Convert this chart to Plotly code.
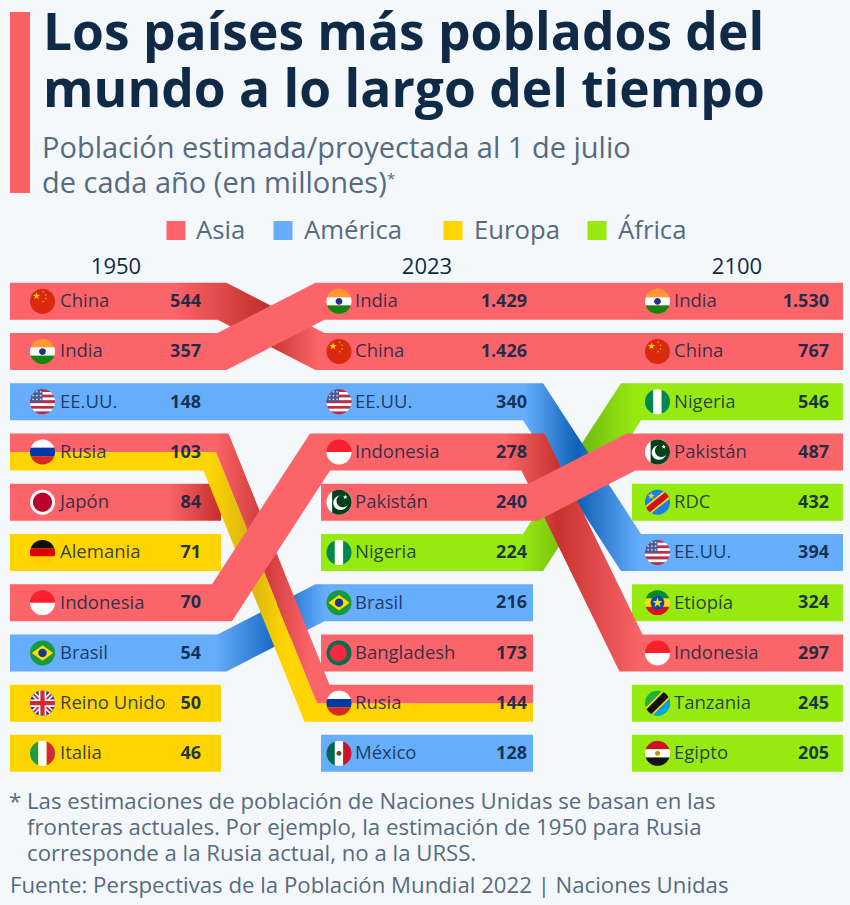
import math
import plotly.graph_objects as go

# ---------- data ----------
YEARS = ["1950", "2023", "2100"]
names_1950 = ["China", "India", "EE.UU.", "Rusia", "Japón", "Alemania", "Indonesia", "Brasil", "Reino Unido", "Italia"]
values_1950 = ["544", "357", "148", "103", "84", "71", "70", "54", "50", "46"]
names_2023 = ["India", "China", "EE.UU.", "Indonesia", "Pakistán", "Nigeria", "Brasil", "Bangladesh", "Rusia", "México"]
values_2023 = ["1.429", "1.426", "340", "278", "240", "224", "216", "173", "144", "128"]
names_2100 = ["India", "China", "Nigeria", "Pakistán", "RDC", "EE.UU.", "Etiopía", "Indonesia", "Tanzania", "Egipto"]
values_2100 = ["1.530", "767", "546", "487", "432", "394", "324", "297", "245", "205"]
continent = {"China": "Asia", "India": "Asia", "EE.UU.": "América", "Rusia": "Rusia", "Japón": "Asia",
             "Alemania": "Europa", "Indonesia": "Asia", "Brasil": "América", "Reino Unido": "Europa",
             "Italia": "Europa", "Pakistán": "Asia", "Nigeria": "África", "Bangladesh": "Asia", "México": "América",
             "RDC": "África", "Etiopía": "África", "Tanzania": "África", "Egipto": "África"}
legend_names = ["Asia", "América", "Europa", "África"]

# ---------- style ----------
BG = "#f4f8fb"
NAVY = "#0f2a47"
GREY = "#566b80"
COL = {"Asia": "#fb6468", "América": "#66aefc", "Europa": "#ffd500", "África": "#97ea10"}
FONT = "Open Sans"
ROW0, PITCH, H = 301.3, 50.23, 37
TEXT_DY = 1.3
BAR = [(10, 221), (321, 533), (632, 843)]
GAP = [(222, 320), (533, 631)]
FLAG_X = [42.5, 339, 657.5]
LABEL_X = [60, 355, 674]
VALUE_X = [201, 527, 829]
YEAR_X = [116, 427, 737]
LEG_SQ = [176, 283, 453, 597]
LEG_TX = [196, 304, 474, 618]
# drawing order and shadow stops (x position, colour) of each ribbon
SHADE = {
    "China": [(175, None), (265, "#c4302c"), (318, None)],
    "Japón": [(170, None), (221, "#c42e2c")],
    "Rusia": [(215, None), (265, "#cf3a38"), (310, None)],
    "RusiaE": [(210, None), (250, "#d8b410"), (285, None)],
    "Brasil": [(215, None), (278, "#1465c0"), (325, None)],
    "EE.UU.": [(525, None), (578, "#0f60b5"), (640, None)],
    "Nigeria": [(520, None), (575, "#6cb30f"), (635, None)],
    "Indonesia": [(505, None), (558, "#c8322e"), (640, None)],
}
ORDER = ["China", "India", "Japón", "Alemania", "Reino Unido", "Italia", "Brasil", "RusiaE", "Rusia", "Bangladesh",
         "México", "RDC", "Etiopía", "Tanzania", "Egipto", "Nigeria", "EE.UU.", "Indonesia", "Pakistán"]
columns = [names_1950, names_2023, names_2100]
values = [values_1950, values_2023, values_2100]


def row_y(r):
    return ROW0 + PITCH * r


def edge(name, s):
    """Polyline of a ribbon edge, s = offset from the centre line."""
    pts = []
    present = [i for i in range(3) if name in columns[i]]
    for k, i in enumerate(present):
        y = row_y(columns[i].index(name)) + s
        if k == 0:
            pts.append((BAR[i][0], y))
        if i in present and i + 1 in present:
            ya = row_y(columns[i].index(name))
            yb = row_y(columns[i + 1].index(name))
            if ya != yb:
                xa, xb = GAP[i]
                if name == "Rusia":
                    xa, xb = xa - 6, xb - 3
                th = math.atan2(abs(yb - ya), xb - xa)
                d = -s * math.tan(th / 2) * (1 if yb > ya else -1)
                pts.append((xa + d, ya + s))
                pts.append((xb + d, yb + s))
        else:
            pts.append((BAR[i][1], y))
    return pts


def add_ribbon(fig, key):
    name = "Rusia" if key == "RusiaE" else key
    base = COL["Europa"] if key == "RusiaE" else COL["Asia"] if key == "Rusia" else COL[continent[key]]
    s1, s2 = -H / 2, H / 2
    if key == "Rusia":
        s2 = 0
    if key == "RusiaE":
        s1 = 0
    top, bot = edge(name, s1), edge(name, s2)
    poly = top + bot[::-1] + [top[0]]
    xs, ys = zip(*poly)
    kw = dict(fillcolor=base)
    if key in SHADE:
        lo, hi = min(xs), max(xs)
        stops = [[0, base]]
        for x, c in SHADE[key]:
            stops.append([min(max((x - lo) / (hi - lo), 0), 1), c or base])
        stops.append([1, stops[-1][1] if key == "Japón" else base])
        kw = dict(fillgradient=dict(type="horizontal", colorscale=stops))
    fig.add_trace(go.Scatter(x=xs, y=ys, mode="lines", line=dict(width=0), fill="toself",
                             hoverinfo="skip", showlegend=False, **kw))


# ---------- flags: (colour, unit-space polygon) clipped to a disc ----------
def disc(cx=0.0, cy=0.0, r=1.0, n=48):
    return [(cx + r * math.cos(2 * math.pi * k / n), cy + r * math.sin(2 * math.pi * k / n)) for k in range(n)]


def rect(x0, y0, x1, y1):
    return [(x0, y0), (x1, y0), (x1, y1), (x0, y1)]


def stripe(ax, ay, bx, by, w):
    l = math.hypot(bx - ax, by - ay)
    nx, ny = -(by - ay) / l * w, (bx - ax) / l * w
    return [(ax + nx, ay + ny), (ax - nx, ay - ny), (bx - nx, by - ny), (bx + nx, by + ny)]


def star(cx, cy, r):
    return [(cx + (r if k % 2 == 0 else r * .4) * math.sin(math.pi * k / 5),
             cy + (r if k % 2 == 0 else r * .4) * math.cos(math.pi * k / 5)) for k in range(10)]


def clip(poly, convex):
    out = poly
    n = len(convex)
    for i in range(n):
        ax, ay = convex[i]
        bx, by = convex[(i + 1) % n]
        inside = lambda p: (bx - ax) * (p[1] - ay) - (by - ay) * (p[0] - ax) >= 0
        cur, out = out, []
        for j, p in enumerate(cur):
            q = cur[j - 1]
            if inside(p) != inside(q):
                dx, dy = p[0] - q[0], p[1] - q[1]
                t = ((bx - ax) * (q[1] - ay) - (by - ay) * (q[0] - ax)) / ((by - ay) * dx - (bx - ax) * dy)
                out.append((q[0] + t * dx, q[1] + t * dy))
            if inside(p):
                out.append(p)
        if not out:
            break
    return out


def hbands(*cols):
    n = len(cols)
    return [(c, rect(-1, 1 - 2 * (i + 1) / n, 1, 1 - 2 * i / n)) for i, c in enumerate(cols)]


def vbands(*cols):
    n = len(cols)
    return [(c, rect(-1 + 2 * i / n, -1, -1 + 2 * (i + 1) / n, 1)) for i, c in enumerate(cols)]


usa = hbands(*["#c8283c" if i % 2 == 0 else "#ffffff" for i in range(9)]) + [("#4a5a94", rect(-1, 0, 0, 1))]
usa += [("#dfe3ee", disc(x, y, .07, 8)) for x in (-.75, -.45, -.15) for y in (.2, .5, .8)]
uk = [("#1f3f8f", rect(-1, -1, 1, 1)), ("#ffffff", stripe(-1, -1, 1, 1, .2)), ("#ffffff", stripe(-1, 1, 1, -1, .2)),
      ("#d3283a", stripe(-1, -1, 1, 1, .08)), ("#d3283a", stripe(-1, 1, 1, -1, .08)),
      ("#ffffff", rect(-.3, -1, .3, 1)), ("#ffffff", rect(-1, -.3, 1, .3)),
      ("#d3283a", rect(-.17, -1, .17, 1)), ("#d3283a", rect(-1, -.17, 1, .17))]
FLAGS = {
    "China": [("#d9290f", rect(-1, -1, 1, 1)), ("#ffd400", star(-.48, .42, .3)), ("#f6b400", disc(.05, .75, .06, 8)),
              ("#f6b400", disc(.25, .5, .06, 8)), ("#f6b400", disc(.25, .2, .06, 8)), ("#f6b400", disc(.05, -.02, .06, 8))],
    "India": hbands("#ff9933", "#ffffff", "#138808") + [("#1e2f8f", disc(0, 0, .27, 16))],
    "EE.UU.": usa,
    "Rusia": hbands("#ffffff", "#0039a6", "#d52b1e"),
    "Japón": [("#ffffff", rect(-1, -1, 1, 1)), ("#bc002d", disc(0, 0, .76))],
    "Alemania": hbands("#111111", "#dd0000", "#ffce00"),
    "Indonesia": hbands("#f8202c", "#ffffff"),
    "Brasil": [("#189a3c", rect(-1, -1, 1, 1)), ("#ffdf00", [(-.85, 0), (0, -.62), (.85, 0), (0, .62)]),
               ("#123a8a", disc(0, 0, .34, 16))],
    "Reino Unido": uk,
    "Italia": vbands("#1f9a4b", "#ffffff", "#ce2b37"),
    "Pakistán": [("#ffffff", rect(-1, -1, 1, 1)), ("#01411c", rect(-.55, -1, 1, 1)), ("#ffffff", disc(.12, -.05, .58)),
                 ("#01411c", disc(.3, .1, .5)), ("#ffffff", star(.5, .42, .2))],
    "Nigeria": vbands("#008751", "#ffffff", "#008751"),
    "Bangladesh": [("#0a6a50", rect(-1, -1, 1, 1)), ("#f42a41", disc(-.05, 0, .68))],
    "México": vbands("#006847", "#ffffff", "#ce1126") + [("#6b4a2a", disc(0, 0, .2, 12))],
    "RDC": [("#1a7fe8", rect(-1, -1, 1, 1)), ("#f7d618", stripe(-1, -.8, 1, .8, .38)), ("#ce1021", stripe(-1, -.8, 1, .8, .24)),
            ("#f7d618", star(-.5, .5, .3))],
    "Etiopía": hbands("#078930", "#fcdd09", "#da121a") + [("#0f47af", disc(0, 0, .55, 24)), ("#fcdd09", star(0, 0, .42))],
    "Tanzania": [("#1eb53a", rect(-1, -1, 1, 1)), ("#00a3dd", [(-1, -1), (1, -1), (1, 1)]), ("#fcd116", stripe(-1, -1, 1, 1, .42)),
                 ("#111111", stripe(-1, -1, 1, 1, .28))],
    "Egipto": hbands("#ce1126", "#ffffff", "#111111") + [("#c09300", disc(0, 0, .2, 12))],
}
R = 12.5


def flag_shapes(name, cx, cy):
    shapes = []
    big = disc(r=1.0, n=64)
    for color, poly in FLAGS[name]:
        p = clip(poly, big)
        if len(p) < 3:
            continue
        d = "M" + "L".join(f"{cx + R * x:.2f},{cy - R * y:.2f}" for x, y in p) + "Z"
        shapes.append(dict(type="path", path=d, xref="x", yref="y", fillcolor=color, line=dict(width=0), layer="above"))
    return shapes


# ---------- figure ----------
fig = go.Figure()

for key in ORDER:
    add_ribbon(fig, key)

shapes = []
for i in range(3):
    for r, name in enumerate(columns[i]):
        shapes += flag_shapes(name, FLAG_X[i], row_y(r))
    ys = [row_y(r) + TEXT_DY for r in range(10)]
    fig.add_trace(go.Scatter(x=[LABEL_X[i]] * 10, y=ys, text=columns[i], mode="text", textposition="middle right",
                             textfont=dict(family=FONT, size=18.5, color="rgba(15,38,70,0.85)"),
                             hoverinfo="skip", showlegend=False))
    fig.add_trace(go.Scatter(x=[VALUE_X[i]] * 10, y=ys, text=values[i], mode="text", textposition="middle left",
                             textfont=dict(family=FONT, size=18, color="rgba(15,38,70,0.92)", weight="bold"),
                             hoverinfo="skip", showlegend=False))

# legend
for n, sx, tx in zip(legend_names, LEG_SQ, LEG_TX):
    fig.add_trace(go.Scatter(x=[sx], y=[230.5], mode="markers", marker=dict(symbol="square", size=19, color=COL[n]),
                             hoverinfo="skip", showlegend=False))
    fig.add_trace(go.Scatter(x=[tx], y=[233], text=[n], mode="text", textposition="middle right",
                             textfont=dict(family=FONT, size=25.7, color=GREY), hoverinfo="skip", showlegend=False))

# years
fig.add_trace(go.Scatter(x=YEAR_X, y=[268] * 3, text=YEARS, mode="text", textposition="middle center",
                         textfont=dict(family=FONT, size=22, color=NAVY), hoverinfo="skip", showlegend=False))

# accent bar
shapes.append(dict(type="rect", xref="x", yref="y", x0=10, x1=30, y0=12, y1=193, fillcolor="#fb6062",
                   line=dict(width=0), layer="below"))


def note(x, y, text, size, color, bold=False):
    return dict(x=x, y=y, xref="x", yref="y", text=text, showarrow=False, xanchor="left", yanchor="middle", align="left",
                font=dict(family=FONT, size=size, color=color, weight="bold" if bold else "normal"))


annotations = [
    note(41, 30, "Los países más poblados del", 51.5, NAVY, True),
    note(41, 87, "mundo a lo largo del tiempo", 51.5, NAVY, True),
    note(40, 146, "Población estimada/proyectada al 1 de julio", 29, GREY),
    note(40, 181, "de cada año (en millones)", 29, GREY),
    note(385, 178, "*", 15, GREY),
    note(7, 800, "* Las estimaciones de población de Naciones Unidas se basan en las", 22.2, GREY),
    note(25, 826, "fronteras actuales. Por ejemplo, la estimación de 1950 para Rusia", 22.2, GREY),
    note(25, 852, "corresponde a la Rusia actual, no a la URSS.", 22.2, GREY),
    note(8, 884, "Fuente: Perspectivas de la Población Mundial 2022 | Naciones Unidas", 22.2, GREY),
]

fig.update_layout(
    width=850, height=905, margin=dict(l=0, r=0, t=0, b=0),
    paper_bgcolor=BG, plot_bgcolor=BG, showlegend=False,
    xaxis=dict(range=[0, 850], visible=False, fixedrange=True),
    yaxis=dict(range=[905, 0], visible=False, fixedrange=True),
    shapes=shapes, annotations=annotations,
)
fig.write_html("out.html", config={"displayModeBar": False},
               post_script="document.body.style.margin='0';document.body.style.background='#f4f8fb';")
